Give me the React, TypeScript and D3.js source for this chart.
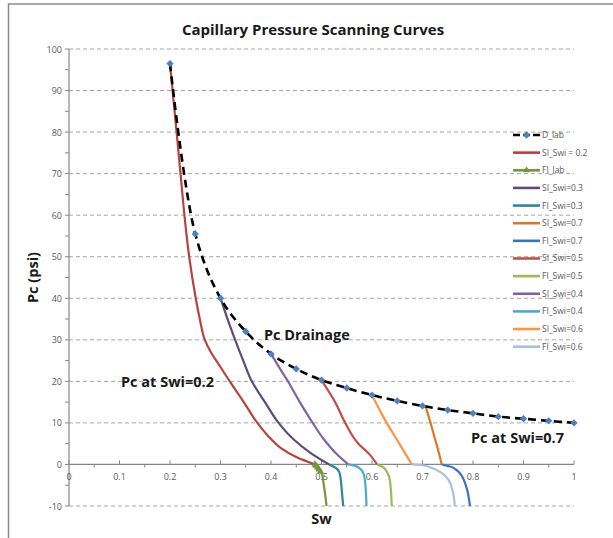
import * as d3 from 'd3'

// Sw, Pc pairs
const dLab: [number, number][] = [
  [0.2, 96.5], [0.25, 55.5], [0.3, 40], [0.35, 32], [0.4, 26.6], [0.45, 23],
  [0.5, 20.3], [0.55, 18.4], [0.6, 16.7], [0.65, 15.3], [0.7, 14.1], [0.75, 13.1],
  [0.8, 12.3], [0.85, 11.5], [0.9, 11], [0.95, 10.5], [1.0, 10],
]
const siSwi02: [number, number][] = [
  [0.2, 96.5], [0.217, 75], [0.233, 55], [0.238, 50], [0.251, 40], [0.259, 35],
  [0.269, 30], [0.281, 27], [0.297, 24], [0.321, 19.5], [0.346, 15], [0.373, 10],
  [0.397, 6.5], [0.419, 4], [0.45, 1.8], [0.487, 0],
]
const fiLab: [number, number][] = [
  [0.487, 0], [0.489, -0.3], [0.492, -0.7], [0.495, -1.2], [0.498, -1.7],
  [0.501, -2.4], [0.504, -4.5], [0.507, -7], [0.51, -10],
]
const siSwi03: [number, number][] = [
  [0.3, 40], [0.314, 35], [0.329, 30], [0.345, 25], [0.362, 20], [0.388, 15],
  [0.415, 10], [0.445, 6], [0.478, 2.8], [0.515, 0],
]
const fiSwi03: [number, number][] = [
  [0.515, 0], [0.528, -0.8], [0.535, -1.8], [0.538, -3.5], [0.54, -6], [0.543, -10],
]
const siSwi07: [number, number][] = [
  [0.706, 14.0], [0.716, 10], [0.725, 6], [0.732, 3], [0.738, 0],
]
const fiSwi07: [number, number][] = [
  [0.738, 0], [0.755, -0.5], [0.768, -1.4], [0.778, -2.8], [0.787, -5.5], [0.794, -10],
]
const siSwi05: [number, number][] = [
  [0.5, 20.3], [0.527, 15], [0.547, 10], [0.573, 5], [0.596, 2.3], [0.61, 0],
]
const fiSwi05: [number, number][] = [
  [0.61, 0], [0.62, -0.5], [0.628, -1.5], [0.634, -3], [0.637, -5.5], [0.639, -10],
]
const siSwi04: [number, number][] = [
  [0.4, 26.6], [0.418, 23], [0.436, 19.5], [0.457, 15], [0.48, 10.5], [0.505, 6],
  [0.53, 2.5], [0.553, 0],
]
const fiSwi04: [number, number][] = [
  [0.553, 0], [0.568, -0.4], [0.578, -1.2], [0.584, -2.5], [0.587, -5], [0.589, -10],
]
const siSwi06: [number, number][] = [
  [0.6, 16.7], [0.62, 12], [0.64, 7.8], [0.66, 3.8], [0.679, 0],
]
const fiSwi06: [number, number][] = [
  [0.679, 0], [0.7, -0.2], [0.72, -0.9], [0.74, -2.2], [0.752, -3.8], [0.76, -6.5], [0.764, -10],
]

const seriesNames = [
  'D_lab', 'SI_Swi = 0.2', 'FI_lab', 'SI_Swi=0.3', 'FI_Swi=0.3', 'SI_Swi=0.7', 'FI_Swi=0.7',
  'SI_Swi=0.5', 'FI_Swi=0.5', 'SI_Swi=0.4', 'FI_Swi=0.4', 'SI_Swi=0.6', 'FI_Swi=0.6',
]
const seriesData = [
  dLab, siSwi02, fiLab, siSwi03, fiSwi03, siSwi07, fiSwi07,
  siSwi05, fiSwi05, siSwi04, fiSwi04, siSwi06, fiSwi06,
]
const seriesColors = [
  '#000000', '#B4443F', '#77933C', '#604A7B', '#31859C', '#D9782C', '#3F73B8',
  '#C0504D', '#9BBB59', '#8064A2', '#4BACC6', '#F79646', '#A9C0DE',
]

const xTicks = [0, 0.1, 0.2, 0.3, 0.4, 0.5, 0.6, 0.7, 0.8, 0.9, 1]
const xTickLabels = ['0', '0.1', '0.2', '0.3', '0.4', '0.5', '0.6', '0.7', '0.8', '0.9', '1']
const yTicks = [-10, 0, 10, 20, 30, 40, 50, 60, 70, 80, 90, 100]

const width = 613
const height = 538
const font = '"Open Sans", "Liberation Sans", sans-serif'

export default function App() {
  const x = d3.scaleLinear().domain([0, 1]).range([69, 574])
  const y = d3.scaleLinear().domain([-10, 100]).range([506, 49])

  // drainage curve: smooth through the lab points
  const dLine = d3
    .line<[number, number]>()
    .x((d) => x(d[0]))
    .y((d) => y(d[1]))
    .curve(d3.curveCatmullRom.alpha(0.5))

  // scanning curves: Sw is a function of Pc, so smooth along y
  const sLine = d3
    .line<[number, number]>()
    .x((d) => x(d[0]))
    .y((d) => y(d[1]))
    .curve(d3.curveMonotoneY)

  const diamond = d3.symbol().type((d3 as any).symbolDiamond2 ?? d3.symbolDiamond).size(34)()
  const triangle = d3.symbol().type(d3.symbolTriangle).size(22)()

  const minorY = d3.range(-10, 101, 5)
  const minorX = d3.range(0.05, 1, 0.1)

  const legendX = 513
  const legendY0 = 135
  const legendStep = 17.64

  return (
    <svg
      width={width}
      height={height}
      style={{ position: 'fixed', left: 0, top: 0, background: '#fff' }}
      fontFamily={font}
    >
      <rect x={8.5} y={4} width={612} height={540} fill="#fff" stroke="#8c8c8c" strokeWidth={1.5} />

      <text x={313} y={35} textAnchor="middle" fontSize={15} fontWeight="bold" fill="#1a1a1a">
        Capillary Pressure Scanning Curves
      </text>

      {/* gridlines */}
      {yTicks
        .filter((t) => t !== 0)
        .map((t) => (
          <line
            key={'g' + t}
            x1={x(0)}
            x2={x(1)}
            y1={y(t)}
            y2={y(t)}
            stroke="#a6a6a6"
            strokeWidth={1}
            strokeDasharray="4,3"
          />
        ))}

      {/* y axis */}
      <line x1={x(0)} x2={x(0)} y1={y(100)} y2={y(-10)} stroke="#868686" strokeWidth={1.2} />
      {minorY.map((t) => (
        <line key={'ym' + t} x1={x(0) - 4} x2={x(0)} y1={y(t)} y2={y(t)} stroke="#868686" />
      ))}
      {yTicks.map((t) => (
        <text key={'yl' + t} x={62} y={y(t) + 3.5} textAnchor="end" fontSize={9} fill="#595959">
          {t}
        </text>
      ))}

      {/* x axis at Pc = 0 */}
      <line x1={x(0)} x2={x(1)} y1={y(0)} y2={y(0)} stroke="#868686" strokeWidth={1.2} />
      {xTicks.map((t) => (
        <line key={'xt' + t} x1={x(t)} x2={x(t)} y1={y(0) - 4} y2={y(0)} stroke="#868686" />
      ))}
      {minorX.map((t) => (
        <line key={'xm' + t} x1={x(t)} x2={x(t)} y1={y(0)} y2={y(0) + 3} stroke="#868686" />
      ))}
      {xTicks.map((t, i) => (
        <text key={'xl' + t} x={x(t)} y={y(0) + 16} textAnchor="middle" fontSize={9} fill="#595959">
          {xTickLabels[i]}
        </text>
      ))}

      <text
        transform={`translate(38,${(y(100) + y(-10)) / 2}) rotate(-90)`}
        textAnchor="middle"
        fontSize={14.5}
        fontWeight="bold"
        fill="#1a1a1a"
      >
        Pc (psi)
      </text>
      <text x={x(0.5)} y={524} textAnchor="middle" fontSize={14.5} fontWeight="bold" fill="#1a1a1a">
        Sw
      </text>

      {/* scanning curves */}
      {seriesData.map((data, i) =>
        i === 0 ? null : (
          <path
            key={'s' + i}
            d={sLine(data) ?? ''}
            fill="none"
            stroke={seriesColors[i]}
            strokeWidth={2.2}
          />
        ),
      )}
      {fiLab
        .filter((d) => d[1] >= -2)
        .map((d, j) => (
          <path key={'tri' + j} d={triangle ?? ''} transform={`translate(${x(d[0])},${y(d[1])})`} fill="#77933C" />
        ))}

      {/* drainage curve */}
      <path d={dLine(dLab) ?? ''} fill="none" stroke="#000" strokeWidth={2.6} strokeDasharray="8,5" />
      {dLab.map((d, j) => (
        <path key={'dm' + j} d={diamond ?? ''} transform={`translate(${x(d[0])},${y(d[1])})`} fill="#4F81BD" />
      ))}

      {/* annotations */}
      <text x={264} y={340} fontSize={14.5} fontWeight="bold" fill="#1a1a1a">
        Pc Drainage
      </text>
      <text x={121} y={387} fontSize={14.5} fontWeight="bold" fill="#1a1a1a">
        Pc at Swi=0.2
      </text>
      <text x={471} y={443} fontSize={14.5} fontWeight="bold" fill="#1a1a1a">
        Pc at Swi=0.7
      </text>

      {/* legend */}
      {seriesNames.map((name, i) => {
        const ly = legendY0 + i * legendStep
        return (
          <g key={'lg' + i}>
            <line
              x1={legendX}
              x2={legendX + 27}
              y1={ly}
              y2={ly}
              stroke={seriesColors[i]}
              strokeWidth={2.6}
              strokeDasharray={i === 0 ? '7,3' : undefined}
            />
            {i === 0 && (
              <path d={diamond ?? ''} transform={`translate(${legendX + 13.5},${ly})`} fill="#4F81BD" />
            )}
            {i === 2 && (
              <path d={triangle ?? ''} transform={`translate(${legendX + 13.5},${ly})`} fill="#77933C" />
            )}
            <text x={legendX + 29} y={ly + 3} fontSize={8.5} fill="#595959">
              {name}
            </text>
          </g>
        )
      })}
    </svg>
  )
}
